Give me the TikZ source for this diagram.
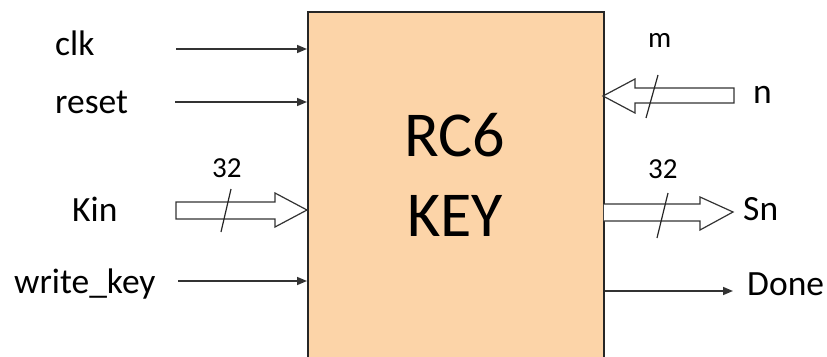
\documentclass[tikz,border=0pt]{standalone}
\usepackage{fontspec}
\setmainfont{Carlito}
\usetikzlibrary{arrows.meta}
\definecolor{boxfill}{RGB}{252,212,168}
\begin{document}
\begin{tikzpicture}[x=1pt,y=-1pt,
 lbl/.style={anchor=base west,inner sep=0pt,font=\fontsize{35.5}{42}\selectfont},
 sml/.style={anchor=base west,inner sep=0pt,font=\fontsize{29}{34}\selectfont},
 sig/.style={draw=black!80,line width=1.5pt,-{Triangle[length=10pt,width=8pt]}},
 bus/.style={draw=black!80,line width=1.2pt,fill=white,line join=miter},
 slash/.style={draw=black!85,line width=1.2pt}]
\useasboundingbox (0,0) rectangle (827,356);
\clip (0,0) rectangle (827,356);
\node[draw=black!85, line width=1.5pt, fill=boxfill, minimum width=296pt, minimum height=360pt, inner sep=0pt, anchor=north west] (core) at (307,11) {};
\node[align=center, inner sep=0pt, font=\fontsize{64}{80}\selectfont] (title) at (455,175) {RC6\\KEY};
% labels
\node[lbl] (clk) at (55,55) {clk};
\node[lbl] (reset) at (55,113) {reset};
\node[lbl] (kin) at (72,221) {Kin};
\node[lbl] (wk) at (14,293) {write\_key};
\node[sml] (m) at (648,47) {m};
\node[lbl] (n) at (753,103) {n};
\node[sml] (w1) at (212,177) {32};
\node[sml] (w2) at (648,178) {32};
\node[lbl] (sn) at (743,220) {Sn};
\node[lbl] (done) at (747,295) {Done};
% single signals
\coordinate (clkS) at (176,49);
\coordinate (resetS) at (175,102);
\coordinate (wkS) at (178,281);
\coordinate (doneE) at (733,291);
\draw[sig] (clkS) -- (clkS -| core.west);
\draw[sig] (resetS) -- (resetS -| core.west);
\draw[sig] (wkS) -- (wkS -| core.west);
\draw[sig] (doneE -| core.east) -- (doneE);
% buses
\draw[bus] (176,202) -- (275,202) -- (275,193) -- (307,210) -- (275,227) -- (275,219) -- (176,219) -- cycle;
\draw[slash] (231,189) -- (221,232);
\draw[bus] (734,88) -- (635,88) -- (635,79) -- (603,96) -- (635,113) -- (635,103) -- (734,103) -- cycle;
\draw[slash] (658,75) -- (646,118);
\filldraw[bus] (603.8,204) -- (700,204) -- (700,197) -- (733,212) -- (700,230) -- (700,221) -- (603.8,221);
\draw[slash] (668,193) -- (657,238);
\end{tikzpicture}
\end{document}
